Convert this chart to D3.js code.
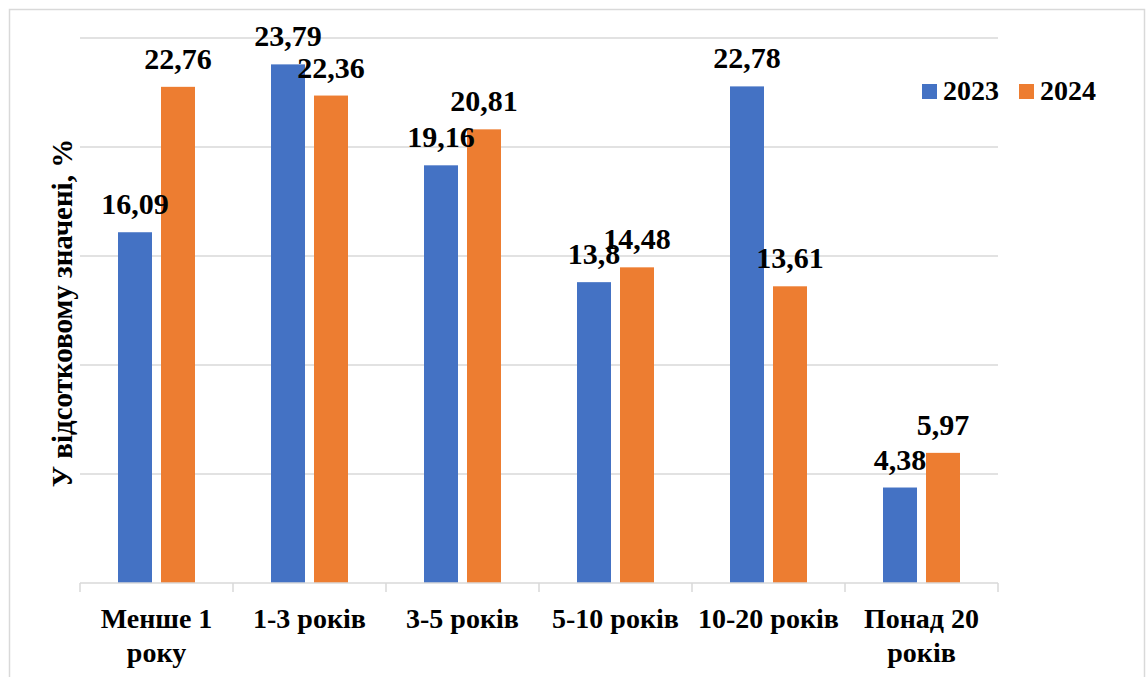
<!DOCTYPE html>
<html>
<head>
<meta charset="utf-8">
<script src="https://cdn.jsdelivr.net/npm/d3@7/dist/d3.min.js"></script>
<style>
  html, body { margin: 0; padding: 0; background: #ffffff; }
  svg { display: block; }
</style>
</head>
<body>
<svg id="chart" width="1146" height="677"></svg>
<script>
// Частка за стажем, %
const categories = ["Менше 1 року", "1-3 років", "3-5 років", "5-10 років", "10-20 років", "Понад 20 років"];
const seriesNames = ["2023", "2024"];
const values2023 = [16.09, 23.79, 19.16, 13.8, 22.78, 4.38];
const values2024 = [22.76, 22.36, 20.81, 14.48, 13.61, 5.97];
const gridTicks = [0, 5, 10, 15, 20, 25];
const yTitle = "У відсотковому значені, %";

const colors = { "2023": "#4472C4", "2024": "#ED7D31" };
const seriesValues = { "2023": values2023, "2024": values2024 };
const FONT = "Liberation Serif";

const svg = d3.select("#chart");
const plot = { left: 80, right: 998, top: 38, bottom: 583 };

// outer chart frame
svg.append("rect")
  .attr("x", 9.5).attr("y", 9.5)
  .attr("width", 1135).attr("height", 690)
  .attr("fill", "#fff").attr("stroke", "#d9d9d9").attr("stroke-width", 1.5);

const x0 = d3.scaleBand().domain(categories).range([plot.left, plot.right]).padding(0);
const x1 = d3.scaleBand().domain(seriesNames)
  .range([38, x0.bandwidth() - 38]).paddingInner(9 / 43).paddingOuter(0);
const y = d3.scaleLinear().domain([0, 25]).range([plot.bottom, plot.top]);

// horizontal gridlines
svg.append("g").selectAll("line")
  .data(gridTicks.filter(t => t > 0))
  .join("line")
  .attr("x1", plot.left).attr("x2", plot.right)
  .attr("y1", d => y(d)).attr("y2", d => y(d))
  .attr("stroke", "#d9d9d9").attr("stroke-width", 1.5);

// bars
const groups = svg.append("g").selectAll("g")
  .data(categories)
  .join("g")
  .attr("transform", d => `translate(${x0(d)},0)`);

groups.selectAll("rect")
  .data((c, i) => seriesNames.map(s => ({ s, v: seriesValues[s][i] })))
  .join("rect")
  .attr("x", d => x1(d.s))
  .attr("width", x1.bandwidth())
  .attr("y", d => y(d.v))
  .attr("height", d => y(0) - y(d.v))
  .attr("fill", d => colors[d.s]);

// category axis with tick marks between groups
const xAxis = svg.append("g").attr("transform", `translate(0,${plot.bottom})`);
xAxis.append("line")
  .attr("x1", plot.left).attr("x2", plot.right)
  .attr("stroke", "#d9d9d9").attr("stroke-width", 1.5);
const boundaries = categories.map(c => x0(c)).concat([plot.right]);
xAxis.selectAll("line.tick")
  .data(boundaries)
  .join("line")
  .attr("class", "tick")
  .attr("x1", d => d).attr("x2", d => d)
  .attr("y1", 0).attr("y2", 9)
  .attr("stroke", "#d9d9d9").attr("stroke-width", 1.5);

// greedy word wrap by character count
function wrapWords(s, maxChars) {
  const lines = [];
  let cur = "";
  s.split(" ").forEach(w => {
    const next = cur ? cur + " " + w : w;
    if (next.length > maxChars && cur) { lines.push(cur); cur = w; }
    else cur = next;
  });
  if (cur) lines.push(cur);
  return lines;
}

// category labels
xAxis.selectAll("text.cat")
  .data(categories)
  .join("text")
  .attr("class", "cat")
  .attr("y", 45)
  .attr("text-anchor", "middle")
  .attr("font-family", FONT).attr("font-weight", "bold")
  .attr("font-size", 28)
  .selectAll("tspan")
  .data(d => wrapWords(d, 11).map(line => ({ line, cx: x0(d) + x0.bandwidth() / 2 })))
  .join("tspan")
  .attr("x", d => d.cx)
  .attr("dy", (d, i) => i === 0 ? 0 : 34)
  .text(d => d.line);

// value labels above bars
groups.selectAll("text.val")
  .data((c, i) => seriesNames.map(s => ({ s, v: seriesValues[s][i] })))
  .join("text")
  .attr("class", "val")
  .attr("x", d => x1(d.s) + x1.bandwidth() / 2)
  .attr("y", d => y(d.v) - 18)
  .attr("text-anchor", "middle")
  .attr("font-family", FONT).attr("font-weight", "bold")
  .attr("font-size", 30)
  .text(d => String(d.v).replace(".", ","));

// y-axis title
svg.append("text")
  .attr("transform", `translate(72,313) rotate(-90)`)
  .attr("text-anchor", "middle")
  .attr("font-family", FONT).attr("font-weight", "bold")
  .attr("font-size", 29)
  .text(yTitle);

// legend
const legend = svg.append("g").attr("transform", "translate(922,84)");
const legendItems = legend.selectAll("g")
  .data(seriesNames)
  .join("g")
  .attr("transform", (d, i) => `translate(${i * 97},0)`);
legendItems.append("rect")
  .attr("width", 15).attr("height", 15)
  .attr("fill", d => colors[d]);
legendItems.append("text")
  .attr("x", 21).attr("y", 16)
  .attr("font-family", FONT).attr("font-weight", "bold")
  .attr("font-size", 28)
  .text(d => d);
</script>
</body>
</html>
